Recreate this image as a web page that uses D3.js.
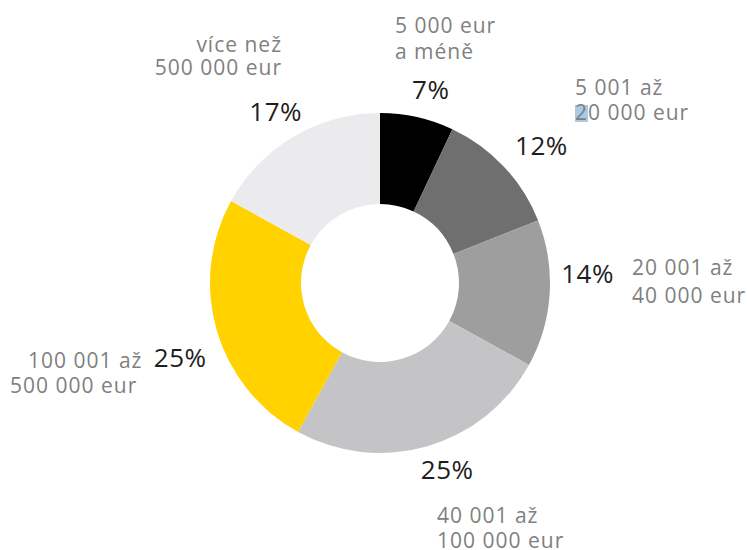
<!DOCTYPE html>
<html>
<head>
<meta charset="utf-8">
<script src="https://cdn.jsdelivr.net/npm/d3@7"></script>
<style>
  body { margin: 0; background: #fff; }
  text { font-family: "Open Sans", sans-serif; }
</style>
</head>
<body>
<div id="chart-area"></div>
<script>
const WIDTH = 747
const HEIGHT = 550
const CENTER = { X: 380, Y: 283 }
const R_OUTER = 170
const R_INNER = 79
const R_LABEL = 205

// DATA
const categories = [
  ["5 000 eur", "a méně"],
  ["5 001 až", "20 000 eur"],
  ["20 001 až", "40 000 eur"],
  ["40 001 až", "100 000 eur"],
  ["100 001 až", "500 000 eur"],
  ["více než", "500 000 eur"]
]
const values = [7, 12, 14, 25, 25, 17]
const colors = ["#000000", "#6f6f6f", "#9e9e9e", "#c4c4c6", "#ffd200", "#ebebed"]

// percent label nudges from the arc centroid
const pctNudge = [[6, 7], [12, 3], [3, -22], [10, -10], [-3, 18], [0, 5]]

// category label placement (x, first baseline, anchor, line height, per-line x shift)
const labelPos = [
  { x: 395, y: 33, anchor: "start", lh: 26, shift: [0, 0] },
  { x: 575, y: 95, anchor: "start", lh: 25, shift: [0, 0] },
  { x: 632, y: 275, anchor: "start", lh: 28, shift: [0, 0] },
  { x: 437, y: 523, anchor: "start", lh: 25, shift: [0, 0] },
  { x: 28, y: 368, anchor: "start", lh: 25, shift: [0, -18] },
  { x: 282, y: 52, anchor: "end", lh: 23, shift: [0, 0] }
]

const data = values.map((v, i) => ({
  value: v, label: categories[i], color: colors[i], pos: labelPos[i], nudge: pctNudge[i]
}))

const svg = d3.select("#chart-area").append("svg")
  .attr("width", WIDTH)
  .attr("height", HEIGHT)

const g = svg.append("g")
  .attr("transform", `translate(${CENTER.X}, ${CENTER.Y})`)

const pie = d3.pie()
  .value(d => d.value)
  .sort(null)

const arc = d3.arc()
  .innerRadius(R_INNER)
  .outerRadius(R_OUTER)

const labelArc = d3.arc()
  .innerRadius(R_LABEL)
  .outerRadius(R_LABEL)

const arcs = pie(data)

// SLICES
g.selectAll("path")
  .data(arcs)
  .enter().append("path")
  .attr("d", arc)
  .attr("fill", d => d.data.color)

// PERCENT LABELS
g.selectAll(".pct")
  .data(arcs)
  .enter().append("text")
  .attr("class", "pct")
  .attr("x", d => labelArc.centroid(d)[0] + d.data.nudge[0])
  .attr("y", d => labelArc.centroid(d)[1] + d.data.nudge[1])
  .attr("dy", "0.35em")
  .attr("text-anchor", "middle")
  .attr("font-size", 26)
  .attr("letter-spacing", 0.5)
  .attr("fill", "#1e1e1e")
  .text(d => d.data.value + "%")

// selection highlight on the "2"
svg.append("rect")
  .attr("x", labelPos[1].x)
  .attr("y", labelPos[1].y + labelPos[1].lh - 15)
  .attr("width", 13)
  .attr("height", 17)
  .attr("fill", "#a9cbe5")

// CATEGORY LABELS
const cat = svg.selectAll(".cat")
  .data(data)
  .enter().append("text")
  .attr("class", "cat")
  .attr("text-anchor", d => d.pos.anchor)
  .attr("font-size", 21)
  .attr("letter-spacing", 1)
  .attr("fill", "#808080")

cat.selectAll("tspan")
  .data(d => d.label.map((t, j) => ({ t, x: d.pos.x + d.pos.shift[j], y: d.pos.y + j * d.pos.lh })))
  .enter().append("tspan")
  .attr("x", d => d.x)
  .attr("y", d => d.y)
  .text(d => d.t)
</script>
</body>
</html>
